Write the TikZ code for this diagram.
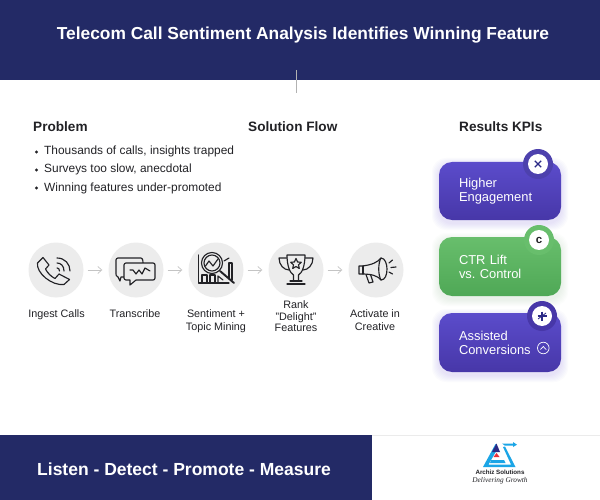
\documentclass[tikz,border=0pt]{standalone}
\usepackage{fontspec}
\setmainfont{Liberation Sans}
\newfontfamily\serifi{Liberation Serif}
\usetikzlibrary{arrows.meta,shapes.geometric}
\definecolor{navy}{HTML}{232A66}
\definecolor{ink}{HTML}{222226}
\definecolor{disc}{HTML}{ECECEC}
\definecolor{arrowgray}{HTML}{C4C4C4}
\definecolor{cardtop}{HTML}{5B4CCB}
\definecolor{cardbot}{HTML}{4737A8}
\definecolor{greentop}{HTML}{68BE6C}
\definecolor{greenbot}{HTML}{4FA856}
\definecolor{logoblue}{HTML}{1BA5E6}
\definecolor{logodark}{HTML}{2B2A86}
\definecolor{logored}{HTML}{E8303A}
\newcommand{\softshadow}[5]{%
  \foreach \i in {1,2,...,7}{%
    \fill[#5,opacity=0.018,rounded corners=14pt] (#1-\i,#2-\i+3) rectangle (#3+\i,#4+\i+3);}}
\tikzset{
  band/.style={fill=navy,draw=none},
  heading/.style={font=\fontsize{13.6}{16}\selectfont\bfseries,text=ink,anchor=west,inner sep=0pt},
  bulletitem/.style={font=\fontsize{11.9}{14}\selectfont,text=ink,anchor=west,inner sep=0pt,text height=8.6pt,text depth=2.6pt},
  stepdisc/.style={circle,fill=disc,draw=none,minimum size=55pt,inner sep=0pt},
  steplabel/.style={font=\fontsize{10.8}{11.6}\selectfont,text=ink,align=center,inner sep=0pt,anchor=north},
  flowarrow/.style={draw=arrowgray,line width=0.7pt,-{Straight Barb[length=4pt,width=7pt]},shorten <=4pt,shorten >=6pt},
  icon/.style={draw=ink,line width=1.15pt,line join=round,line cap=round},
  card/.style={rounded corners=13pt,minimum width=122pt,inner xsep=20pt,inner ysep=0pt,text width=82pt,align=left,text=white,font=\fontsize{12.9}{13.9}\selectfont},
  purplecard/.style={card,top color=cardtop,bottom color=cardbot},
  greencard/.style={card,top color=greentop,bottom color=greenbot},
  badgering/.style={circle,minimum size=30pt,inner sep=0pt},
  badgeface/.style={circle,fill=white,minimum size=20pt,inner sep=0pt,text=logodark,font=\fontsize{11}{11}\selectfont\bfseries},
}
\begin{document}
\begin{tikzpicture}[x=1pt,y=-1pt]
\useasboundingbox (0,0) rectangle (600,500);
\fill[white] (0,0) rectangle (600,500);
% bands
\fill[band] (0,0) rectangle (600,80);
\fill[band] (0,435) rectangle (372,500);
\draw[draw=black!8,line width=1pt] (372,435) -- (600,435);
\draw[draw=black!30,line width=0.8pt] (296.5,70) -- (296.5,93);
\node[font=\fontsize{17.35}{20}\selectfont\bfseries,text=white,inner sep=0pt] (title) at (303,35) {Telecom Call Sentiment Analysis Identifies Winning Feature};
\node[font=\fontsize{17.5}{20}\selectfont\bfseries,text=white,anchor=west,inner sep=0pt] (motto) at (37,469) {Listen - Detect - Promote - Measure};
% headings
\node[heading] (hprob) at (33,126.5) {Problem};
\node[heading] (hsol) at (248,126.5) {Solution Flow};
\node[heading] (hres) at (459,126.5) {Results KPIs};
% bullets
\foreach \y/\t/\n in {152/{Thousands of calls, insights trapped}/a,170/{Surveys too slow, anecdotal}/b,188/{Winning features under-promoted}/c}{
  \fill[ink] (36.5,\y) circle (1.7pt);
  \node[bulletitem] (bullet\n) at (44,\y) {\t};
}
% steps
\node[stepdisc] (s1) at (56,270) {};
\node[stepdisc] (s2) at (136,270) {};
\node[stepdisc] (s3) at (216,270) {};
\node[stepdisc] (s4) at (296,270) {};
\node[stepdisc] (s5) at (376,270) {};
\draw[flowarrow] (s1) -- (s2);
\draw[flowarrow] (s2) -- (s3);
\draw[flowarrow] (s3) -- (s4);
\draw[flowarrow] (s4) -- (s5);
\node[steplabel] (l1) at (56.5,309) {Ingest Calls};
\node[steplabel] (l2) at (135,309) {Transcribe};
\node[steplabel] (l3) at (216,309) {Sentiment +\\[1.4pt]Topic Mining};
\node[steplabel] (l4) at (296,300.5) {Rank\\"Delight"\\Features};
\node[steplabel] (l5) at (375,309.5) {Activate in\\[1pt]Creative};
% phone
\draw[icon] (37.5,263) -- (43,257.5) -- (49,265) -- (45.5,269) .. controls (47.5,273) and (51,276.5) .. (55,278.5) -- (59,274) -- (69.5,279.5) -- (64,284.5) .. controls (52,286) and (36,273) .. (37.5,263) -- cycle;
\draw[icon] (57,263) .. controls (61,263) and (64,266) .. (64,271);
\draw[icon] (57,258) .. controls (65,258) and (70,264) .. (70,271);
\draw[icon] (57,268) .. controls (58.5,268) and (59.5,269) .. (59.5,271);
% chat bubbles
\draw[icon] (124,277) -- (121,277) -- (120,281) -- (118,277) .. controls (116,276) and (116,275) .. (116,274) -- (116,260) .. controls (116,259) and (117,258) .. (118,258) -- (141,258) .. controls (142,258) and (143,259) .. (143,263);
\draw[icon,fill=disc] (126,263) -- (153,263) .. controls (154.5,263) and (155,264) .. (155,265) -- (155,278) .. controls (155,279.5) and (154,280) .. (153,280) -- (136,280) -- (130,285) -- (130,280) -- (126,280) .. controls (125,280) and (124,279) .. (124,278) -- (124,265) .. controls (124,264) and (125,263) .. (126,263) -- cycle;
\draw[icon] (130,270) -- (133,270) -- (136,274) -- (139,270) -- (142,274) -- (145,268) -- (150,271);
% sentiment mining
\draw[icon] (198.5,255) -- (198.5,283) -- (229,283);
\draw[icon] (202,283) -- (202,275) -- (207,275) -- (207,283);
\draw[icon] (210,283) -- (210,275) -- (215,275) -- (215,283);
\draw[icon] (218,283) -- (218,276) -- (223,280);
\draw[icon] (229,278) -- (229,263) -- (232,263) -- (232,280);
\draw[icon,fill=disc] (212,263) circle (10.5pt);
\draw[icon] (212,263) circle (8pt);
\draw[icon] (205.5,266) -- (209,261) -- (213,266) -- (218,259);
\draw[icon,line width=1.9pt] (220,271) -- (234,283);
\draw[icon] (224,261) -- (229,258);
% trophy
\draw[icon] (287,255) -- (305,255) .. controls (305,266) and (302,273) .. (298.5,275) -- (298.5,281) -- (293.5,281) -- (293.5,275) .. controls (290,273) and (287,266) .. (287,255) -- cycle;
\draw[icon] (287,258) -- (279,258) .. controls (279,265) and (284,270) .. (289,270);
\draw[icon] (305,258) -- (313,258) .. controls (313,265) and (308,270) .. (303,270);
\draw[icon] (290,281) -- (302,281);
\draw[icon] (287,284) -- (305,284);
\draw[icon] (296,258.5) -- (297.6,262) -- (301.3,262.3) -- (298.5,264.8) -- (299.3,268.5) -- (296,266.5) -- (292.7,268.5) -- (293.5,264.8) -- (290.7,262.3) -- (294.4,262) -- cycle;
% megaphone
\draw[icon] (381,258) .. controls (385,258) and (387,264) .. (387,269) .. controls (387,275) and (385,280) .. (381,280) .. controls (378,276) and (372,274) .. (362,274) -- (359,274) -- (359,266) -- (362,266) .. controls (372,265) and (378,262) .. (381,258) -- cycle;
\draw[icon] (381,258) .. controls (378,263) and (378,275) .. (381,280);
\draw[icon] (363,266) -- (363,274);
\draw[icon] (366,274.5) -- (369,283) -- (373,282) -- (370.5,274.5);
\draw[icon] (389,263) -- (392.5,260);
\draw[icon] (391,267.5) -- (396,267);
\draw[icon] (389,272) -- (392.5,274);
% KPI cards
\softshadow{439}{162}{561}{220}{cardtop}
\softshadow{439}{237}{561}{296}{greentop}
\softshadow{439}{313}{561}{372}{cardtop}
\node[purplecard,minimum height=58pt] (k1) at (500,191) {Higher\\Engagement};
\node[greencard,minimum height=59pt] (k2) at (500,266.5) {CTR Lift\\vs.\ Control};
\node[purplecard,minimum height=59pt] (k3) at (500,342.5) {Assisted\\Conversions};
\node[badgering,fill=cardtop!85!black] (b1) at (538,164) {};
\node[badgering,fill=greentop] (b2) at (539,240) {};
\node[badgering,fill=cardbot] (b3) at (542,316) {};
\node[badgeface] (f1) at (b1) {};
\node[badgeface] (f2) at (b2) {};
\node[badgeface] (f3) at (b3) {};
\draw[draw=logodark,line width=1.2pt] (534.8,160.8) -- (541.2,167.2) (541.2,160.8) -- (534.8,167.2);
\node[inner sep=0pt,text=ink,font=\fontsize{11.5}{11}\selectfont\bfseries] (cmark) at (b2) {c};
\draw[draw=logodark,line width=1.2pt] (542,311.5) -- (542,320.5) (537.5,316) -- (546.5,316);
\draw[draw=logodark,line width=0.8pt] (538,319) -- (546,313);
\draw[draw=white,line width=0.7pt] (543.3,348) circle (5.8pt);
\draw[draw=white,line width=0.7pt,line cap=round] (540.5,349.5) -- (543.3,346.5) -- (546.1,349.5);
% logo
\fill[logoblue] (483,467) -- (495.5,444) -- (498,448) -- (488.5,464.5) -- (511,464.5) -- (503,447) -- (505,446.5) -- (515.5,467) -- cycle;
\fill[logoblue] (502,443.5) -- (513,443.5) -- (513,442) -- (517,444.7) -- (513,447) -- (513,445.7) -- (505,445.7) -- cycle;
\fill[logoblue] (491,460) -- (504,460) -- (505.5,463) -- (490,463) -- cycle;
\fill[logodark] (496.5,443.5) -- (500,452) -- (492,452) -- cycle;
\fill[logored] (496.5,453) -- (499.5,457) -- (493.5,457) -- cycle;
\node[inner sep=0pt,text=ink,font=\fontsize{6.2}{7}\selectfont\bfseries] (lg1) at (500,472.5) {Archiz Solutions};
\node[inner sep=0pt,text=ink,font=\fontsize{7.3}{7}\selectfont\serifi\itshape] (lg2) at (500,481) {Delivering Growth};
\end{tikzpicture}
\end{document}
